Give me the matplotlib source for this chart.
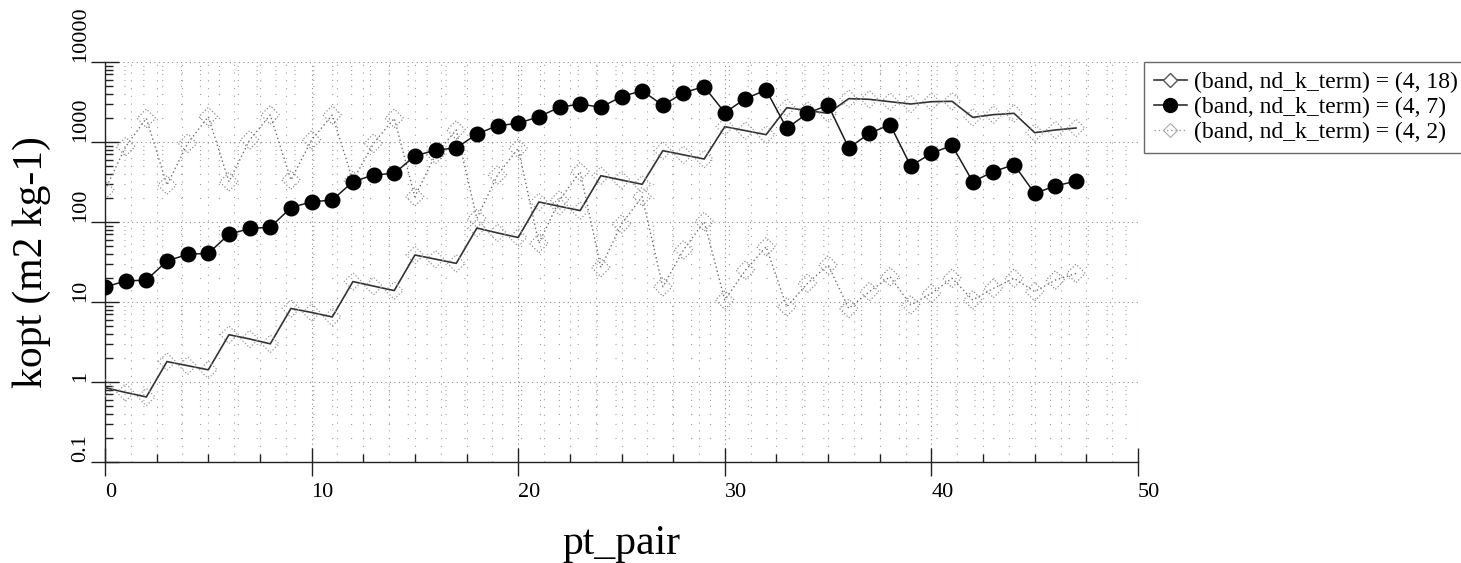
import numpy as np
import matplotlib.pyplot as plt
from matplotlib.lines import Line2D
from matplotlib.ticker import MultipleLocator, LogLocator, NullFormatter, FixedLocator

plt.rcParams['font.family'] = ['Liberation Serif', 'DejaVu Serif']

pt_pair = np.arange(48)

kopt_18 = [0.85, 0.74, 0.65, 1.8, 1.6, 1.42, 3.9, 3.45, 3.0, 8.3,
           7.4, 6.5, 18, 15.8, 13.9, 38.7, 34.3, 30.4, 84, 73,
           64, 178, 157, 139, 379, 335, 296, 779, 691, 613,
           1555, 1386, 1235, 2683, 2475, 2282, 3483, 3415, 3190, 2985,
           3190, 3224, 2033, 2197, 2282, 1308, 1413, 1496]

kopt_7 = [15.4, 18.3, 18.8, 32.5, 39.5, 40.6, 70, 83, 86, 151,
          179, 188, 319, 387, 406, 668, 794, 841, 1259, 1600,
          1711, 2073, 2713, 2985, 2713, 3690, 4383, 2872, 4137, 4916,
          2328, 3483, 4467, 1482, 2282, 2900, 841, 1283, 1648, 501,
          722, 908, 319, 426, 521, 228, 282, 325]

kopt_2 = [251, 874, 1977, 290, 962, 2073, 319, 1059, 2175, 335,
          1059, 2175, 330, 962, 1977, 207, 700, 1413, 111, 387,
          832, 54, 188, 426, 27, 94, 207, 15.5, 44.7, 101,
          10.6, 25, 49, 8.7, 17.1, 29, 8.3, 13.5, 20.7, 9.2,
          12.8, 19.8, 10.6, 14.8, 19.8, 13.5, 18.8, 22.8]

labels = ['(band, nd_k_term) = (4, 18)',
          '(band, nd_k_term) = (4, 7)',
          '(band, nd_k_term) = (4, 2)']

fig = plt.figure(figsize=(14.61, 5.63), dpi=100)
ax = fig.add_axes([105 / 1461, 1 - 462 / 563, (1138 - 105) / 1461, 400 / 563])

# grid: sparse dotted minor lattice, denser dotted major lines
for xv in np.arange(1.25, 50, 1.25):
    if xv % 10 != 0:
        ax.axvline(xv, color='#a0a0a0', lw=0.8, ls=(0, (1, 6)), zorder=0)
ax.grid(True, which='major', color='#8a8a8a', lw=0.8, ls=(0, (1, 3)), zorder=0)
ax.grid(True, which='minor', axis='y', color='#a0a0a0', lw=0.8, ls=(0, (1, 16)), zorder=0)

# (4, 2)
ax.plot(pt_pair, kopt_2, color='#6e6e6e', lw=1.0, ls=(0, (1, 2)), zorder=2)
ax.scatter(pt_pair, kopt_2, marker='D', s=90, facecolors='none',
           edgecolors='#8c8c8c', linewidths=0.9, linestyles=':', zorder=2)
# (4, 18)
ax.plot(pt_pair, kopt_18, color='#333333', lw=1.2, zorder=3)
ax.scatter(pt_pair, kopt_18, marker='D', s=80, facecolors='none',
           edgecolors='#999999', linewidths=0.9, linestyles=':', zorder=3)
# (4, 7)
ax.plot(pt_pair, kopt_7, color='#1a1a1a', lw=1.1, marker='o', ms=10.5,
        mfc='black', mec='black', zorder=4)

ax.set_yscale('log')
ax.set_xlim(0, 50)
ax.set_ylim(0.1, 10000)

ax.xaxis.set_major_locator(MultipleLocator(10))
ax.xaxis.set_minor_locator(MultipleLocator(2.5))
ax.yaxis.set_major_locator(FixedLocator([0.1, 1, 10, 100, 1000, 10000]))
ax.yaxis.set_minor_locator(LogLocator(base=10, subs=np.arange(2, 10), numticks=20))
ax.yaxis.set_minor_formatter(NullFormatter())
ax.set_yticklabels(['0.1', '1', '10', '100', '1000', '10000'])

ax.tick_params(which='major', direction='inout', length=20, width=1, color='#222', labelsize=16)
ax.tick_params(which='minor', direction='in', length=6, width=1, color='#222')
ax.tick_params(axis='x', which='major', pad=5)
ax.tick_params(axis='y', which='major', pad=1)
for lab in ax.get_xticklabels():
    lab.set_ha('left')
for lab in ax.get_yticklabels():
    lab.set_rotation(90)
    lab.set_va('bottom')
    lab.set_ha('right')

for s in ['top', 'right']:
    ax.spines[s].set_visible(False)
for s in ['left', 'bottom']:
    ax.spines[s].set_color('#222')
    ax.spines[s].set_linewidth(1)

ax.set_xlabel('pt_pair', fontsize=30, labelpad=16)
ax.set_ylabel('kopt (m2 kg-1)', fontsize=30, labelpad=14)

handles = [
    Line2D([], [], color='#333333', lw=1.2, marker='D', ms=7, mfc='white', mec='#555555', mew=1),
    Line2D([], [], color='#1a1a1a', lw=1.1, marker='o', ms=10, mfc='black', mec='black'),
    Line2D([], [], color='#999999', lw=1.0, ls=(0, (1, 2)), marker='D', ms=7, mfc='none', mec='#aaaaaa', mew=0.8),
]
leg = ax.legend(handles, labels, loc='upper left', bbox_to_anchor=(1.006, 1.0),
                fontsize=17, frameon=True, fancybox=False, edgecolor='#444',
                handlelength=1.4, handletextpad=0.3, labelspacing=0.15,
                borderpad=0.4, borderaxespad=0)
leg.get_frame().set_linewidth(1)

fig.savefig('out.png', dpi=100)
